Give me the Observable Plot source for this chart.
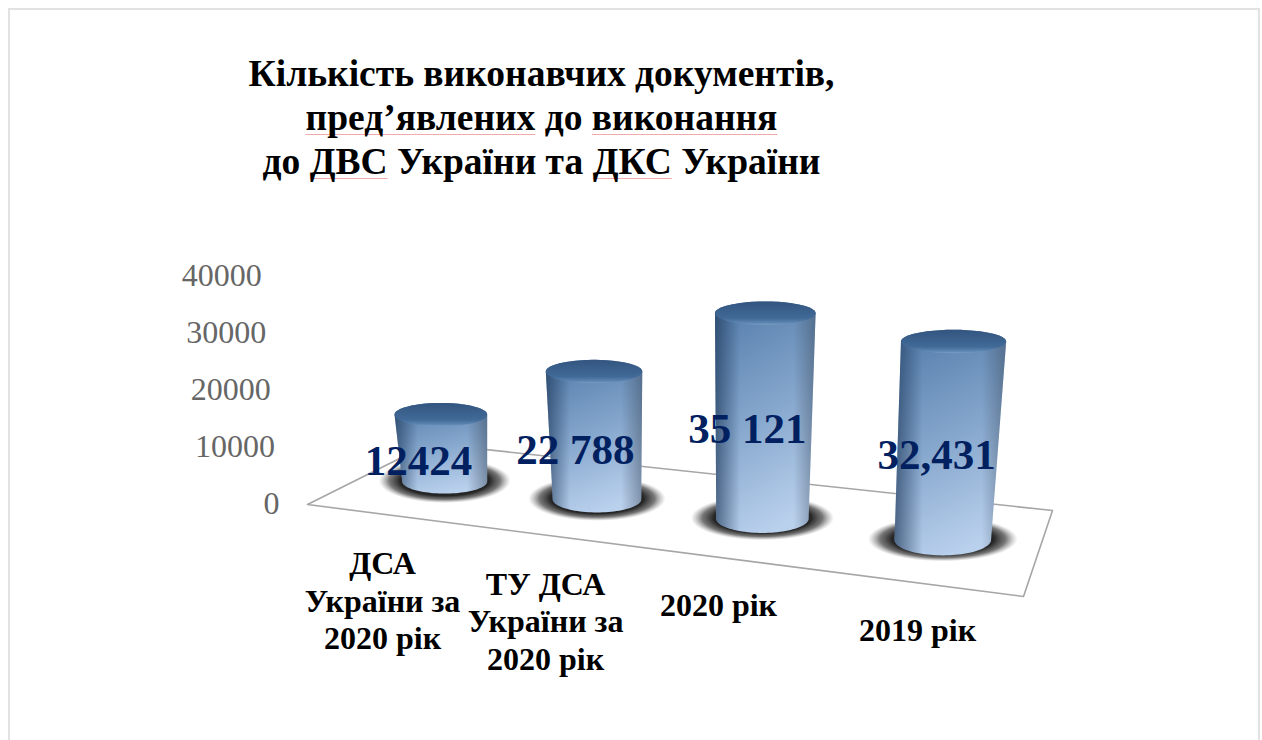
<!DOCTYPE html>
<html lang="uk">
<head>
<meta charset="utf-8">
<script src="https://cdn.jsdelivr.net/npm/d3@7"></script>
<script src="https://cdn.jsdelivr.net/npm/@observablehq/plot@0.6"></script>
<style>
html,body{margin:0;padding:0;background:#fff;}
#page{position:relative;width:1262px;height:740px;overflow:hidden;background:#fff;font-family:"Liberation Serif",serif;}
#frame{position:absolute;left:8px;top:8px;width:1248px;height:760px;border:2px solid #e2e2e2;}
#title{position:absolute;left:0;width:1083px;top:52px;text-align:center;font-weight:bold;font-size:37.5px;line-height:44px;color:#000;white-space:nowrap;}
#title u{text-decoration:underline solid #f0aaaa 1px;text-underline-offset:4px;text-decoration-skip-ink:none;}
#chart{position:absolute;left:0;top:200px;}
</style>
</head>
<body>
<svg width="0" height="0" style="position:absolute">
  <defs>
    <linearGradient id="body" x1="0.3" y1="0" x2="0.55" y2="1">
      <stop offset="0" stop-color="#5780ad"/>
      <stop offset="0.5" stop-color="#86a7cd"/>
      <stop offset="1" stop-color="#bad1ed"/>
    </linearGradient>
    <linearGradient id="edge" x1="0" y1="0" x2="1" y2="0">
      <stop offset="0" stop-color="#1c3556" stop-opacity="0.65"/>
      <stop offset="0.25" stop-color="#1c3556" stop-opacity="0"/>
      <stop offset="0.78" stop-color="#3c4c60" stop-opacity="0"/>
      <stop offset="1" stop-color="#3c4c60" stop-opacity="0.5"/>
    </linearGradient>
    <linearGradient id="cap" x1="0" y1="0" x2="0" y2="1">
      <stop offset="0" stop-color="#33557f"/>
      <stop offset="0.72" stop-color="#416a98"/>
      <stop offset="0.92" stop-color="#5f87b3"/>
      <stop offset="1" stop-color="#7d9fc5"/>
    </linearGradient>
    <radialGradient id="shadow">
      <stop offset="0" stop-color="#1a1a1a"/>
      <stop offset="0.68" stop-color="#262626"/>
      <stop offset="0.84" stop-color="#555" stop-opacity="0.8"/>
      <stop offset="1" stop-color="#888" stop-opacity="0"/>
    </radialGradient>
  </defs>
</svg>
<div id="page">
  <div id="frame"></div>
  <div id="title">Кількість виконавчих документів,<br><u>пред’явлених</u> до <u>виконання</u><br>до <u>ДВС</u> України та <u>ДКС</u> України</div>
  <div id="chart"></div>
</div>
<script>
// ---- chart data ----
const categories = ["ДСА\nУкраїни за\n2020 рік", "ТУ ДСА\nУкраїни за\n2020 рік", "2020 рік", "2019 рік"];
const values = [12424, 22788, 35121, 32431];
const valueLabels = ["12424", "22 788", "35 121", "32,431"];
const yTicks = [0, 10000, 20000, 30000, 40000];

// ---- 3D view, in chart units (x: slot units, y: value units) ----
const floorFrontLeft = [0, 0], floorFrontRight = [4, -16140], floorBackRight = [4.162, -1053], floorBackLeft = [0.682, 10700];
const valueLabelAt = [[0.62, 7544], [1.497, 9474], [2.458, 13158], [3.514, 8596]];
const categoryLabelAt = [[0.419, -16670], [1.33, -20300], [2.296, -17400], [3.408, -21900]];
const baseHalfWidth = 0.251, topWiden = 1.09, baseRy = 2400, topRy = 2050, leanCentre = 2.19, leanRate = 1.27e-6;

// Floor plane projection: unit square -> floor quadrilateral
const [A, B, C, D] = [floorFrontLeft, floorFrontRight, floorBackRight, floorBackLeft];
const dx1 = B[0]-C[0], dx2 = D[0]-C[0], sx = A[0]-B[0]+C[0]-D[0];
const dy1 = B[1]-C[1], dy2 = D[1]-C[1], sy = A[1]-B[1]+C[1]-D[1];
const det = dx1*dy2 - dx2*dy1;
const g = (sx*dy2 - dx2*sy)/det, h = (dx1*sy - sx*dy1)/det;
function floorPoint(s, t) {
  const w = g*s + h*t + 1;
  return {
    x: ((B[0]-A[0]+g*B[0])*s + (D[0]-A[0]+h*D[0])*t + A[0])/w,
    y: ((B[1]-A[1]+g*B[1])*s + (D[1]-A[1]+h*D[1])*t + A[1])/w,
    w
  };
}

const steps = d3.range(0, 49);
function arc(cx, cy, rx, ry, from, to, power = 1) {
  return steps.map(k => {
    const a = from + (to - from)*k/48;
    const c = Math.cos(a), s = Math.sin(a);
    return {x: cx + rx*Math.sign(c)*Math.abs(c)**power, y: cy + ry*Math.sign(s)*Math.abs(s)**power};
  });
}

const cylinders = values.map((v, i) => {
  const base = floorPoint((i + 0.5)/categories.length, 0.5);
  const H = v/base.w;
  const rBase = baseHalfWidth/base.w, rTop = rBase*topWiden;
  const topX = base.x + (base.x - leanCentre)*leanRate*H;
  const topY = base.y + H - 250;
  const baseY = base.y - 200;
  return {
    shadow: arc(base.x, base.y - 100, rBase*1.55, 3900, 0, 2*Math.PI, 0.8),
    body: [...arc(topX, topY, rTop, topRy, Math.PI, 0), ...arc(base.x, baseY, rBase, baseRy/(base.w*base.w), 0, -Math.PI)],
    cap: arc(topX, topY, rTop, topRy, 0, 2*Math.PI)
  };
});

const poly = (data, fill) => Plot.line(data, {x: "x", y: "y", fill, stroke: "none", curve: "linear-closed"});

const plot = Plot.plot({
  width: 1262, height: 540,
  marginLeft: 307, marginRight: 239, marginTop: 19, marginBottom: 8,
  x: {domain: [0, 4], axis: null},
  y: {domain: [-40000, 50000], axis: null},
  style: {background: "transparent", fontFamily: "'Liberation Serif', serif", overflow: "visible"},
  marks: [
    Plot.line([A, B, C, D, A], {x: d => d[0], y: d => d[1], stroke: "#a6a6a6", strokeWidth: 1.6, fill: "none"}),
    Plot.text(yTicks, {x: v => -0.156 - v*2.5e-6, y: v => v + 150, text: v => String(v), textAnchor: "end", fontSize: 32, fill: "#666"}),
    ...cylinders.flatMap(c => [
      poly(c.shadow, "url(#shadow)"),
      poly(c.body, "url(#body)"),
      poly(c.body, "url(#edge)"),
      poly(c.cap, "url(#cap)")
    ]),
    Plot.text(valueLabels, {x: (d, i) => valueLabelAt[i][0], y: (d, i) => valueLabelAt[i][1], text: d => d, fontSize: 43, fontWeight: "bold", fill: "#002060"}),
    Plot.text(categories, {x: (d, i) => categoryLabelAt[i][0], y: (d, i) => categoryLabelAt[i][1], text: d => d, fontSize: 32, fontWeight: "bold", fill: "#000", lineHeight: 1.17})
  ]
});
document.getElementById("chart").appendChild(plot);
</script>
</body>
</html>
